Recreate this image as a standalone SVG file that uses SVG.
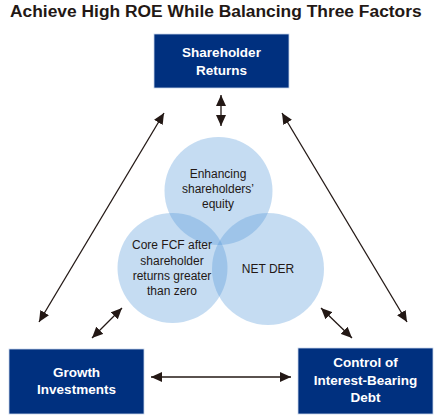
<svg xmlns="http://www.w3.org/2000/svg" width="440" height="418" viewBox="0 0 440 418">
<defs>
<marker id="ah" viewBox="0 0 11 10" refX="11" refY="5" markerWidth="11" markerHeight="10" markerUnits="userSpaceOnUse" orient="auto-start-reverse">
<path d="M0,0 L11,5 L0,10 z" fill="#231815"/>
</marker>
<style>
.title{font-family:"Liberation Sans",Arial,sans-serif;font-weight:bold;font-size:17.4px;fill:#231815}
.box rect{fill:#00307f;stroke:#c9d6ea;stroke-width:0.8}
.box text{font-family:"Liberation Sans",Arial,sans-serif;font-weight:bold;font-size:13.5px;fill:#ffffff;text-anchor:middle}
.circ circle{fill:#4f95d8;fill-opacity:0.33}
.circ text{font-family:"Liberation Sans",Arial,sans-serif;font-size:12px;fill:#231815;text-anchor:middle}
.conn line{stroke:#231815;stroke-width:1.3;marker-start:url(#ah);marker-end:url(#ah)}
</style>
</defs>
<rect width="440" height="418" fill="#ffffff"/>
<text class="title" x="10" y="17">Achieve High ROE While Balancing Three Factors</text>

<g id="circle-equity" class="circ">
<circle cx="218.5" cy="191" r="54"/>
<text x="218" y="178">Enhancing</text>
<text x="218" y="193">shareholders’</text>
<text x="218" y="208">equity</text>
</g>
<g id="circle-fcf" class="circ">
<circle cx="172.5" cy="268" r="55"/>
<text x="172" y="249">Core FCF after</text>
<text x="172" y="265">shareholder</text>
<text x="172" y="280">returns greater</text>
<text x="172" y="295">than zero</text>
</g>
<g id="circle-netder" class="circ">
<circle cx="268" cy="269" r="56"/>
<text x="268" y="273">NET DER</text>
</g>

<g id="shareholder-returns" class="box">
<rect x="154" y="34" width="135" height="54"/>
<text x="221.5" y="57">Shareholder</text>
<text x="221.5" y="75">Returns</text>
</g>
<g id="growth-investments" class="box">
<rect x="9" y="349" width="135" height="65"/>
<text x="76.5" y="377">Growth</text>
<text x="76.5" y="394">Investments</text>
</g>
<g id="control-debt" class="box">
<rect x="298" y="348" width="135" height="66"/>
<text x="365.5" y="367">Control of</text>
<text x="365.5" y="385">Interest-Bearing</text>
<text x="365.5" y="402">Debt</text>
</g>

<g id="connectors" class="conn">
<line x1="221" y1="95" x2="221" y2="126"/>
<line x1="164" y1="113" x2="39" y2="322"/>
<line x1="282" y1="113" x2="407" y2="322"/>
<line x1="122" y1="308" x2="92" y2="338"/>
<line x1="321" y1="308" x2="352" y2="338"/>
<line x1="151" y1="377" x2="291" y2="377"/>
</g>
</svg>
